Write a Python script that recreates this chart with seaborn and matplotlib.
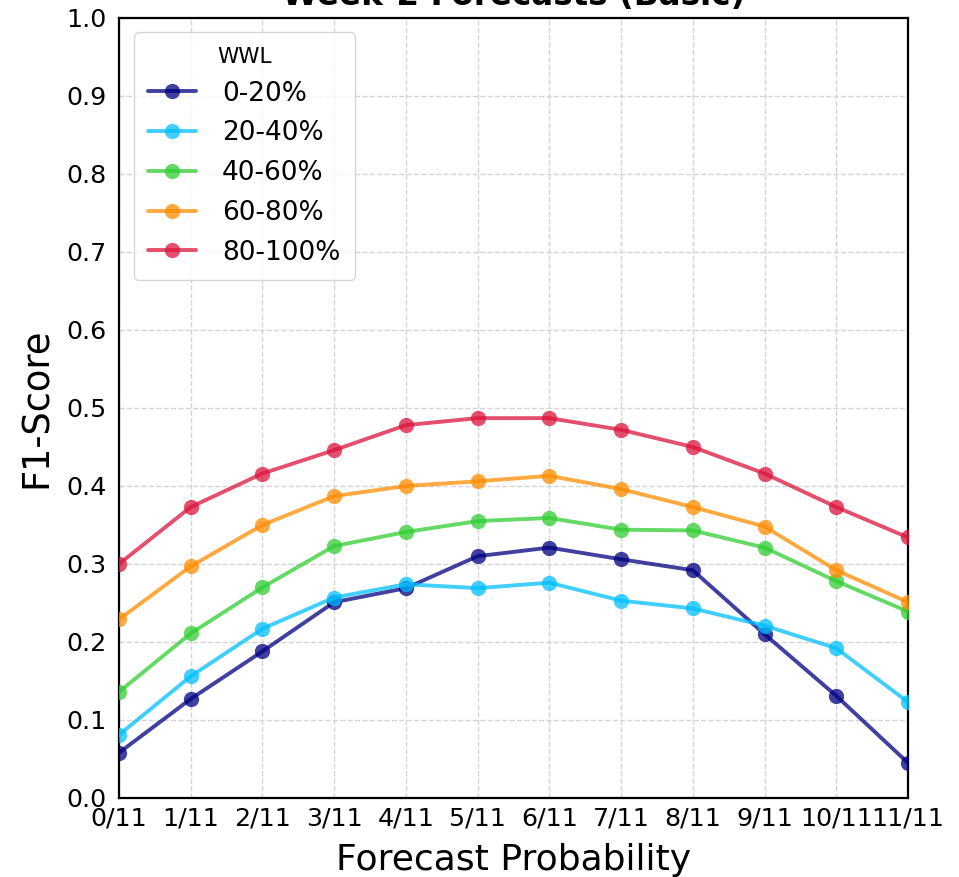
import numpy as np
import pandas as pd
import matplotlib
matplotlib.use("Agg")
import matplotlib.pyplot as plt
from matplotlib.lines import Line2D
import seaborn as sns

# Forecast probability bins (k/11) and F1-scores per WWL class
prob_labels = ["0/11", "1/11", "2/11", "3/11", "4/11", "5/11", "6/11",
               "7/11", "8/11", "9/11", "10/11", "11/11"]
wwl_classes = ["0-20%", "20-40%", "40-60%", "60-80%", "80-100%"]

f1_0_20 = [0.058, 0.127, 0.188, 0.251, 0.269, 0.310, 0.321, 0.306, 0.292, 0.210, 0.131, 0.045]
f1_20_40 = [0.081, 0.156, 0.217, 0.257, 0.274, 0.269, 0.276, 0.253, 0.243, 0.221, 0.192, 0.123]
f1_40_60 = [0.136, 0.211, 0.270, 0.323, 0.341, 0.355, 0.359, 0.344, 0.343, 0.321, 0.278, 0.239]
f1_60_80 = [0.229, 0.297, 0.350, 0.387, 0.400, 0.406, 0.413, 0.396, 0.373, 0.348, 0.292, 0.251]
f1_80_100 = [0.300, 0.373, 0.416, 0.446, 0.478, 0.487, 0.487, 0.472, 0.450, 0.416, 0.373, 0.334]

series = [f1_0_20, f1_20_40, f1_40_60, f1_60_80, f1_80_100]
colors = ["navy", "deepskyblue", "limegreen", "darkorange", "crimson"]
palette = dict(zip(wwl_classes, colors))

rows = []
for cls, vals in zip(wwl_classes, series):
    for i, v in enumerate(vals):
        rows.append({"bin": i, "F1": v, "WWL": cls})
df = pd.DataFrame(rows)

sns.set_style("white")
plt.rcParams["font.family"] = ["DejaVu Sans"]
for key in ("text.color", "axes.labelcolor", "xtick.color", "ytick.color"):
    plt.rcParams[key] = "black"

fig = plt.figure(figsize=(9.59, 8.77), dpi=100)
ax = fig.add_axes([0.1241, 0.0901, 0.8227, 0.8894])

sns.lineplot(data=df, x="bin", y="F1", hue="WWL", hue_order=wwl_classes,
             palette=palette, marker="o", markersize=11, markeredgewidth=0,
             linewidth=2.8, alpha=0.75, ax=ax, legend=False, zorder=3)

ax.set_xlim(0, 11)
ax.set_ylim(0, 1.0)
ax.set_xticks(range(len(prob_labels)))
ax.set_xticklabels(prob_labels, fontsize=18.3)
ax.set_yticks(np.round(np.arange(0, 1.01, 0.1), 1))
ax.set_yticklabels([f"{v:.1f}" for v in np.arange(0, 1.01, 0.1)], fontsize=18.3)
ax.tick_params(axis="x", direction="in", length=7, width=1.2, pad=6)
ax.tick_params(axis="y", direction="out", length=5, width=1.2, pad=4)

ax.grid(True, linestyle="--", color="#d4d4d4", linewidth=1.0)
ax.set_axisbelow(True)
for sp in ax.spines.values():
    sp.set_visible(True)
    sp.set_color("black")
    sp.set_linewidth(1.6)

ax.set_xlabel("Forecast Probability", fontsize=26, labelpad=9)
ax.set_ylabel("F1-Score", fontsize=26.5, labelpad=8)
ax.set_title("Week-2 Forecasts (Basic)", fontsize=23.5, fontweight="bold", pad=9)

handles = [Line2D([0], [0], color=c, marker="o", markersize=11,
                  markeredgewidth=0, linewidth=2.8, alpha=0.75)
           for c in colors]
leg = ax.legend(handles, wwl_classes, title="WWL", loc="upper left",
                fontsize=19, title_fontsize=15.5, frameon=True,
                borderpad=0.55, labelspacing=0.52, handlelength=1.8,
                handletextpad=1.0, bbox_to_anchor=(0.0, 1.0),
                borderaxespad=0.55)
leg.get_frame().set_edgecolor("#cccccc")
leg.get_frame().set_linewidth(1.0)

fig.savefig("out.png", dpi=100)
